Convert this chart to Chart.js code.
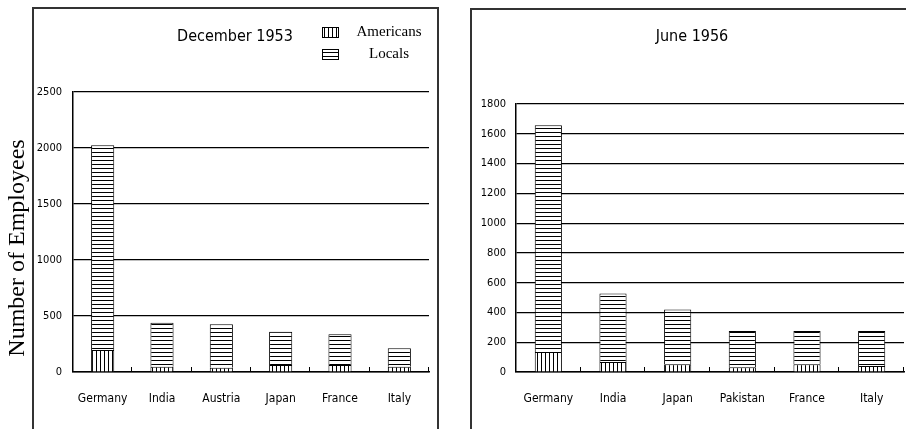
<!DOCTYPE html>
<html>
<head>
<meta charset="utf-8">
<script src="https://cdn.jsdelivr.net/npm/chart.js@4"></script>
<style>
  body { margin: 0; background: #fff; }
  #wrap { position: relative; width: 906px; height: 429px; overflow: hidden; }
  .box { position: absolute; border: 2px solid #333; }
  canvas { position: absolute; top: 0; }
</style>
</head>
<body>
<div id="wrap">
  <div class="box" style="left:32px; top:7px; width:403px; height:440px;"></div>
  <div class="box" style="left:470px; top:8px; width:460px; height:440px;"></div>
  <canvas id="c1953" width="453" height="429" style="left:0"></canvas>
  <canvas id="c1956" width="453" height="429" style="left:453px"></canvas>
</div>
<script>
// December 1953
const countries1953 = ['Germany', 'India', 'Austria', 'Japan', 'France', 'Italy'];
const americans1953 = [196, 47, 38, 62, 62, 47];
const locals1953 = [1828, 393, 388, 298, 274, 164];

// June 1956
const countries1956 = ['Germany', 'India', 'Japan', 'Pakistan', 'France', 'Italy'];
const americans1956 = [135, 67, 52, 32, 52, 40];
const locals1956 = [1523, 461, 368, 243, 223, 235];

const narrow = "'Liberation Sans Narrow', 'Arial Narrow', 'DejaVu Sans Condensed', sans-serif";
const serif = "'Liberation Serif', 'Times New Roman', serif";

function makePattern(vertical) {
    const c = document.createElement('canvas');
    c.width = 4; c.height = 4;
    const g = c.getContext('2d');
    g.fillStyle = '#fff';
    g.fillRect(0, 0, 4, 4);
    g.fillStyle = '#000';
    if (vertical) g.fillRect(0, 0, 1, 4);
    else g.fillRect(0, 0, 4, 1);
    return g.createPattern(c, 'repeat');
}
const vLines = makePattern(true);
const hLines = makePattern(false);

// title, y label, legend and the little category ticks
const decor = {
    id: 'decor',
    afterDraw(chart, args, opts) {
        const ctx = chart.ctx;
        const x = chart.scales.x;
        const area = chart.chartArea;
        ctx.save();
        ctx.strokeStyle = '#000';
        ctx.lineWidth = 1;
        const n = chart.data.labels.length;
        const half = (area.right - area.left) / n / 2;
        for (let i = 0; i < n; i++) {
            const px = Math.round(x.getPixelForValue(i) + half) - 0.5;
            ctx.beginPath();
            ctx.moveTo(px, area.bottom);
            ctx.lineTo(px, area.bottom - 5);
            ctx.stroke();
        }

        ctx.fillStyle = '#000';
        ctx.textAlign = 'center';
        ctx.textBaseline = 'middle';
        ctx.font = '16px ' + narrow;
        ctx.fillText(opts.title, opts.titleX, opts.titleY);

        if (opts.yLabel) {
            ctx.save();
            ctx.translate(opts.yLabelX, opts.yLabelY);
            ctx.rotate(-Math.PI / 2);
            ctx.font = '24px ' + serif;
            ctx.fillText(opts.yLabel, 0, 0);
            ctx.restore();
        }

        if (opts.legend) {
            ctx.font = '15px ' + serif;
            chart.data.datasets.forEach((ds, i) => {
                const y = opts.legendY + i * 22;
                ctx.fillStyle = ds.backgroundColor;
                ctx.fillRect(opts.legendX, y, 17, 10);
                ctx.strokeRect(opts.legendX + 0.5, y + 0.5, 16, 10);
                ctx.fillStyle = '#000';
                ctx.fillText(ds.label, opts.legendTextX, y + 5);
            });
        }
        ctx.restore();
    }
};

function build(id, labels, am, lo, yMax, step, barPct, pad, yWidth, yPad, decorOpts) {
    return new Chart(document.getElementById(id), {
        type: 'bar',
        data: {
            labels: labels,
            datasets: [
                { label: 'Americans', data: am, backgroundColor: vLines, borderColor: '#000', borderWidth: 1 },
                { label: 'Locals', data: lo, backgroundColor: hLines, borderColor: '#000', borderWidth: 1 }
            ]
        },
        options: {
            responsive: false,
            animation: false,
            layout: { padding: pad },
            datasets: { bar: { barPercentage: barPct, categoryPercentage: 1 } },
            scales: {
                x: {
                    stacked: true,
                    grid: { display: false, drawTicks: false },
                    border: { display: true, color: '#000', width: 1.5 },
                    ticks: { color: '#000', padding: 20, font: { family: narrow, size: 12 } },
                    afterFit: s => { s.height = 57; }
                },
                y: {
                    stacked: true,
                    min: 0,
                    max: yMax,
                    grid: { color: '#000', lineWidth: 1.2, drawTicks: false },
                    border: { display: true, color: '#000', width: 1.5 },
                    ticks: { stepSize: step, color: '#000', padding: yPad, font: { family: narrow, size: 11 },
                             callback: v => String(v) },
                    afterFit: s => { s.width = yWidth; }
                }
            },
            plugins: {
                legend: { display: false },
                tooltip: { enabled: false },
                decor: decorOpts
            }
        },
        plugins: [decor]
    });
}

build('c1953', countries1953, americans1953, locals1953, 2500, 500, 0.39,
    { left: 0, right: 24, top: 92, bottom: 0 }, 73, 11,
    { title: 'December 1953', titleX: 235, titleY: 37,
      yLabel: 'Number of Employees', yLabelX: 18, yLabelY: 248,
      legend: true, legendX: 322, legendY: 27, legendTextX: 389 });

build('c1956', countries1956, americans1956, locals1956, 1800, 200, 0.42,
    { left: 0, right: 2, top: 104, bottom: 0 }, 63, 10,
    { title: 'June 1956', titleX: 239, titleY: 37 });
</script>
</body>
</html>
